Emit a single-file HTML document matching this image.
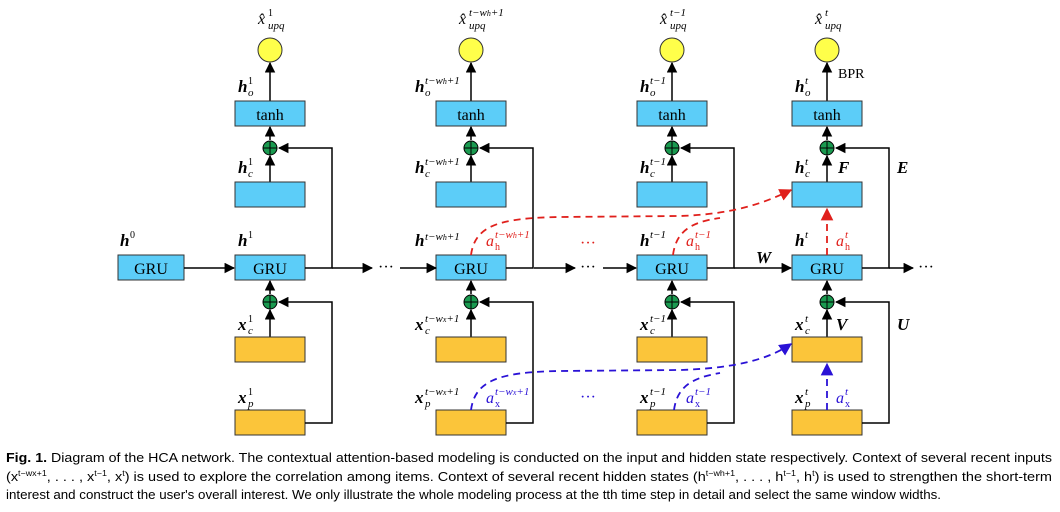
<!DOCTYPE html>
<html><head><meta charset="utf-8"><style>
body{margin:0;background:#fff;width:1060px;height:512px;overflow:hidden}
svg{display:block}
text{font-family:"Liberation Serif",serif}
.b{font-weight:bold;font-style:italic;font-size:17px}
.s{font-style:italic;font-size:11px}
.r{fill:#e0201c}.bl{fill:#2a12d6}
.cap{font-family:"Liberation Sans",sans-serif;font-size:13px}
</style></head><body>
<svg width="1060" height="512" viewBox="0 0 1060 512">
<defs>
<marker id="a" viewBox="0 0 10 10" refX="9" refY="5" markerWidth="7" markerHeight="7" orient="auto"><path d="M0,0L10,5L0,10z" fill="#000"/></marker>
<marker id="ar" viewBox="0 0 10 10" refX="9" refY="5" markerWidth="7" markerHeight="7" orient="auto"><path d="M0,0L10,5L0,10z" fill="#e0201c"/></marker>
<marker id="ab" viewBox="0 0 10 10" refX="9" refY="5" markerWidth="7" markerHeight="7" orient="auto"><path d="M0,0L10,5L0,10z" fill="#2a12d6"/></marker>
<g id="col" stroke="#000" stroke-width="1.5" fill="none">
<circle cx="0" cy="50" r="12" fill="#ffff4a" stroke="#333" stroke-width="1"/>
<line x1="0" y1="101" x2="0" y2="63" marker-end="url(#a)"/>
<rect x="-35" y="101" width="70" height="25" fill="#5ccdf8" stroke="#333" stroke-width="1"/>
<line x1="0" y1="140" x2="0" y2="127" marker-end="url(#a)"/>
<line x1="0" y1="182" x2="0" y2="156" marker-end="url(#a)"/>
<rect x="-35" y="182" width="70" height="25" fill="#5ccdf8" stroke="#333" stroke-width="1"/>
<rect x="-35" y="255" width="70" height="25" fill="#5ccdf8" stroke="#333" stroke-width="1"/>
<polyline points="35,268 62,268 62,148 9,148" marker-end="url(#a)"/>
<line x1="0" y1="294" x2="0" y2="281" marker-end="url(#a)"/>
<line x1="0" y1="337" x2="0" y2="310" marker-end="url(#a)"/>
<rect x="-35" y="337" width="70" height="25" fill="#fbc53a" stroke="#333" stroke-width="1"/>
<rect x="-35" y="410" width="70" height="25" fill="#fbc53a" stroke="#333" stroke-width="1"/>
<polyline points="35,423 62,423 62,302 9,302" marker-end="url(#a)"/>
<circle cx="0" cy="148" r="7" fill="#1a9a50" stroke-width="1"/>
<path d="M0,141V155M-7,148H7" stroke-width="1"/>
<circle cx="0" cy="302" r="7" fill="#1a9a50" stroke-width="1"/>
<path d="M0,295V309M-7,302H7" stroke-width="1"/>
<text x="0" y="120" text-anchor="middle" stroke="none" fill="#000" font-size="16">tanh</text>
<text x="0" y="274" text-anchor="middle" stroke="none" fill="#000" font-size="16">GRU</text>
</g>
</defs>
<use href="#col" x="270"/><use href="#col" x="471"/><use href="#col" x="672"/><use href="#col" x="827"/>
<rect x="118" y="255" width="66" height="25" fill="#5ccdf8" stroke="#333"/>
<text x="151" y="274" text-anchor="middle" font-size="16">GRU</text>
<g stroke="#000" stroke-width="1.5" fill="none">
<line x1="184" y1="268" x2="234" y2="268" marker-end="url(#a)"/>
<line x1="332" y1="268" x2="372" y2="268" marker-end="url(#a)"/>
<line x1="400" y1="268" x2="436" y2="268" marker-end="url(#a)"/>
<line x1="534" y1="268" x2="575" y2="268" marker-end="url(#a)"/>
<line x1="603" y1="268" x2="636" y2="268" marker-end="url(#a)"/>
<line x1="734" y1="268" x2="791" y2="268" marker-end="url(#a)"/>
<line x1="889" y1="268" x2="913" y2="268" marker-end="url(#a)"/>
</g>
<text x="378" y="272" font-size="16">···</text><text x="580" y="272" font-size="16">···</text><text x="918" y="272" font-size="16">···</text>
<text x="580" y="248" font-size="16" class="r">···</text><text x="580" y="402" font-size="16" class="bl">···</text>
<!-- red dashed -->
<g fill="none" stroke="#e0201c" stroke-width="1.8" stroke-dasharray="7,5">
<path d="M471,255 C475,225 500,218 560,217 L680,216 C740,214 770,200 791,190" marker-end="url(#ar)"/>
<path d="M673,255 C676,232 690,222 720,218"/>
<line x1="827" y1="255" x2="827" y2="209" marker-end="url(#ar)"/>
</g>
<g fill="none" stroke="#2a12d6" stroke-width="1.8" stroke-dasharray="7,5">
<path d="M471,410 C475,380 500,372 560,371 L680,370 C740,368 770,358 791,344" marker-end="url(#ab)"/>
<path d="M674,410 C677,388 690,378 720,373"/>
<line x1="827" y1="410" x2="827" y2="364" marker-end="url(#ab)"/>
</g>
<!-- labels -->
<g>
<text x="258" y="24" font-style="italic" font-size="16">x̂</text><text x="268" y="16" font-size="10">1</text><text x="268" y="29" class="s">upq</text>
<text x="459" y="24" font-style="italic" font-size="16">x̂</text><text x="469" y="16" class="s">t−w<tspan font-size="8">h</tspan>+1</text><text x="469" y="29" class="s">upq</text>
<text x="660" y="24" font-style="italic" font-size="16">x̂</text><text x="670" y="16" class="s">t−1</text><text x="670" y="29" class="s">upq</text>
<text x="815" y="24" font-style="italic" font-size="16">x̂</text><text x="825" y="16" class="s">t</text><text x="825" y="29" class="s">upq</text>
<text x="838" y="78" font-size="14">BPR</text>
<text x="238" y="92" class="b">h</text><text x="248" y="84" font-size="10">1</text><text x="248" y="96" class="s">o</text>
<text x="415" y="92" class="b">h</text><text x="425" y="84" class="s">t−w<tspan font-size="8">h</tspan>+1</text><text x="425" y="96" class="s">o</text>
<text x="640" y="92" class="b">h</text><text x="650" y="84" class="s">t−1</text><text x="650" y="96" class="s">o</text>
<text x="795" y="92" class="b">h</text><text x="805" y="84" class="s">t</text><text x="805" y="96" class="s">o</text>
<text x="238" y="173" class="b">h</text><text x="248" y="165" font-size="10">1</text><text x="248" y="177" class="s">c</text>
<text x="415" y="173" class="b">h</text><text x="425" y="165" class="s">t−w<tspan font-size="8">h</tspan>+1</text><text x="425" y="177" class="s">c</text>
<text x="640" y="173" class="b">h</text><text x="650" y="165" class="s">t−1</text><text x="650" y="177" class="s">c</text>
<text x="795" y="173" class="b">h</text><text x="805" y="165" class="s">t</text><text x="805" y="177" class="s">c</text>
<text x="838" y="173" class="b">F</text><text x="897" y="173" class="b">E</text>
<text x="120" y="246" class="b">h</text><text x="130" y="238" font-size="10">0</text>
<text x="238" y="246" class="b">h</text><text x="248" y="238" font-size="10">1</text>
<text x="415" y="246" class="b">h</text><text x="425" y="240" class="s">t−w<tspan font-size="8">h</tspan>+1</text>
<text x="486" y="246" font-style="italic" font-size="16" class="r">a</text><text x="495" y="238" class="s r">t−w<tspan font-size="8">h</tspan>+1</text><text x="495" y="250" font-size="10" class="r">h</text>
<text x="640" y="246" class="b">h</text><text x="650" y="238" class="s">t−1</text>
<text x="686" y="246" font-style="italic" font-size="16" class="r">a</text><text x="695" y="238" class="s r">t−1</text><text x="695" y="250" font-size="10" class="r">h</text>
<text x="795" y="246" class="b">h</text><text x="805" y="238" class="s">t</text>
<text x="836" y="246" font-style="italic" font-size="16" class="r">a</text><text x="845" y="238" class="s r">t</text><text x="845" y="250" font-size="10" class="r">h</text>
<text x="756" y="263" class="b">W</text>
<text x="238" y="330" class="b">x</text><text x="248" y="322" font-size="10">1</text><text x="248" y="334" class="s">c</text>
<text x="415" y="330" class="b">x</text><text x="425" y="322" class="s">t−w<tspan font-size="8">x</tspan>+1</text><text x="425" y="334" class="s">c</text>
<text x="640" y="330" class="b">x</text><text x="650" y="322" class="s">t−1</text><text x="650" y="334" class="s">c</text>
<text x="795" y="330" class="b">x</text><text x="805" y="322" class="s">t</text><text x="805" y="334" class="s">c</text>
<text x="836" y="330" class="b">V</text><text x="897" y="330" class="b">U</text>
<text x="238" y="403" class="b">x</text><text x="248" y="395" font-size="10">1</text><text x="248" y="407" class="s">p</text>
<text x="415" y="403" class="b">x</text><text x="425" y="395" class="s">t−w<tspan font-size="8">x</tspan>+1</text><text x="425" y="407" class="s">p</text>
<text x="486" y="403" font-style="italic" font-size="16" class="bl">a</text><text x="495" y="395" class="s bl">t−w<tspan font-size="8">x</tspan>+1</text><text x="495" y="407" font-size="10" class="bl">x</text>
<text x="640" y="403" class="b">x</text><text x="650" y="395" class="s">t−1</text><text x="650" y="407" class="s">p</text>
<text x="686" y="403" font-style="italic" font-size="16" class="bl">a</text><text x="695" y="395" class="s bl">t−1</text><text x="695" y="407" font-size="10" class="bl">x</text>
<text x="795" y="403" class="b">x</text><text x="805" y="395" class="s">t</text><text x="805" y="407" class="s">p</text>
<text x="836" y="403" font-style="italic" font-size="16" class="bl">a</text><text x="845" y="395" class="s bl">t</text><text x="845" y="407" font-size="10" class="bl">x</text>
</g>
<text class="cap" x="6" y="462" textLength="1046" lengthAdjust="spacingAndGlyphs"><tspan font-weight="bold">Fig. 1.</tspan> Diagram of the HCA network. The contextual attention-based modeling is conducted on the input and hidden state respectively. Context of several recent inputs</text>
<text class="cap" x="6" y="481" textLength="1046" lengthAdjust="spacingAndGlyphs">(x<tspan font-size="8" dy="-5">t−wx+1</tspan><tspan dy="5">, . . . , x</tspan><tspan font-size="8" dy="-5">t−1</tspan><tspan dy="5">, x</tspan><tspan font-size="8" dy="-5">t</tspan><tspan dy="5">) is used to explore the correlation among items. Context of several recent hidden states (h</tspan><tspan font-size="8" dy="-5">t−wh+1</tspan><tspan dy="5">, . . . , h</tspan><tspan font-size="8" dy="-5">t−1</tspan><tspan dy="5">, h</tspan><tspan font-size="8" dy="-5">t</tspan><tspan dy="5">) is used to strengthen the short-term</tspan></text>
<text class="cap" x="6" y="499" textLength="935" lengthAdjust="spacingAndGlyphs">interest and construct the user's overall interest. We only illustrate the whole modeling process at the tth time step in detail and select the same window widths.</text>
</svg>
</body></html>
